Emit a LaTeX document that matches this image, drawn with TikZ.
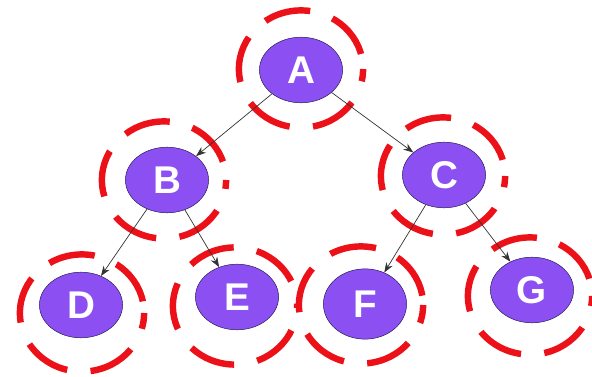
\documentclass[tikz,border=0pt]{standalone}
\usepackage{fontspec}
\setmainfont{Liberation Sans}
\usetikzlibrary{arrows.meta,shapes.geometric}
\definecolor{trNode}{HTML}{8C50F2}
\definecolor{trEdge}{HTML}{1E1450}
\definecolor{trRing}{HTML}{EC1018}
\tikzset{
  treenode/.style={
    draw=trEdge, ellipse, fill=trNode, text=white, thin,
    minimum width=71pt, minimum height=56pt, inner sep=0pt,
    font=\fontsize{33}{35}\selectfont\bfseries
  },
  ring/.style={
    draw=trRing, ellipse, line width=5.5pt,
    minimum width=106pt, minimum height=100pt,
    dash pattern=on 40pt off 20pt
  },
  link/.style={-{Stealth[length=3mm,width=2.2mm]}, semithick, black!80}
}

\begin{document}
\begin{tikzpicture}[x=0.03cm, y=-0.03cm]
  \useasboundingbox (0,0) rectangle (592,377);
  % dashed rings, drawn first
  \node[ring, dash phase=47pt] (ra) at (301,69)  {};
  \node[ring, dash phase=44pt] (rb) at (164,180) {};
  \node[ring, dash phase=46pt] (rc) at (443,176) {};
  \node[ring, dash phase=50pt] (rd) at (82,313)  {};
  \node[ring, dash phase=38pt] (re) at (235,306) {};
  \node[ring, dash phase=52pt] (rf) at (361,305) {};
  \node[ring, dash phase=45pt] (rg) at (530,296) {};
  % tree
  \node[treenode] (a) at (301,70)  {A};
  \node[treenode] (b) at (167,180) {B};
  \node[treenode] (c) at (444,175) {C};
  \node[treenode] (d) at (81,305)  {D};
  \node[treenode] (e) at (237,297) {E};
  \node[treenode, minimum height=60pt] (f) at (365,304) {F};
  \node[treenode] (g) at (532,290) {G};
  \foreach \s/\e in {a/b, a/c, b/d, b/e, c/f, c/g}{\draw[link] (\s) -- (\e);}
\end{tikzpicture}
\end{document}
